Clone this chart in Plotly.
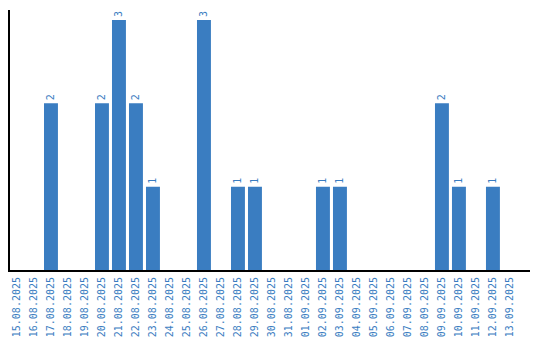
import plotly.graph_objects as go

dates = ["15.08.2025","16.08.2025","17.08.2025","18.08.2025","19.08.2025","20.08.2025",
         "21.08.2025","22.08.2025","23.08.2025","24.08.2025","25.08.2025","26.08.2025",
         "27.08.2025","28.08.2025","29.08.2025","30.08.2025","31.08.2025","01.09.2025",
         "02.09.2025","03.09.2025","04.09.2025","05.09.2025","06.09.2025","07.09.2025",
         "08.09.2025","09.09.2025","10.09.2025","11.09.2025","12.09.2025","13.09.2025"]
values = [0,0,2,0,0,2,3,2,1,0,0,3,0,1,1,0,0,0,1,1,0,0,0,0,0,2,1,0,1,0]
labels = [str(v) if v else "" for v in values]

blue = "#3a7dc1"
fig = go.Figure(go.Bar(
    x=list(range(len(dates))), y=values, text=labels, textposition="outside",
    textangle=-90, textfont=dict(color=blue, size=10, family="DejaVu Sans Mono"),
    marker=dict(color=blue, line=dict(width=0)), cliponaxis=False,
))
fig.update_layout(
    width=540, height=340, margin=dict(l=10, r=10, t=10, b=70),
    paper_bgcolor="white", plot_bgcolor="white", showlegend=False, bargap=0.18,
    font=dict(family="DejaVu Sans Mono", size=10, color=blue),
    uniformtext=dict(minsize=10, mode="show"),
)
fig.update_xaxes(tickmode="array", tickvals=list(range(len(dates))), ticktext=dates,
                 tickangle=-90, range=[-0.41, 30.18], showline=True, linecolor="black",
                 linewidth=2, showgrid=False, ticks="", zeroline=False,
                 ticklabelstandoff=1, automargin=False,
                 tickfont=dict(color=blue, size=10, family="DejaVu Sans Mono"))
fig.update_yaxes(range=[0, 3.12], showline=True, linecolor="black", linewidth=2,
                 showgrid=False, showticklabels=False, ticks="", zeroline=False,
                 automargin=False)
fig.write_html("out.html")
